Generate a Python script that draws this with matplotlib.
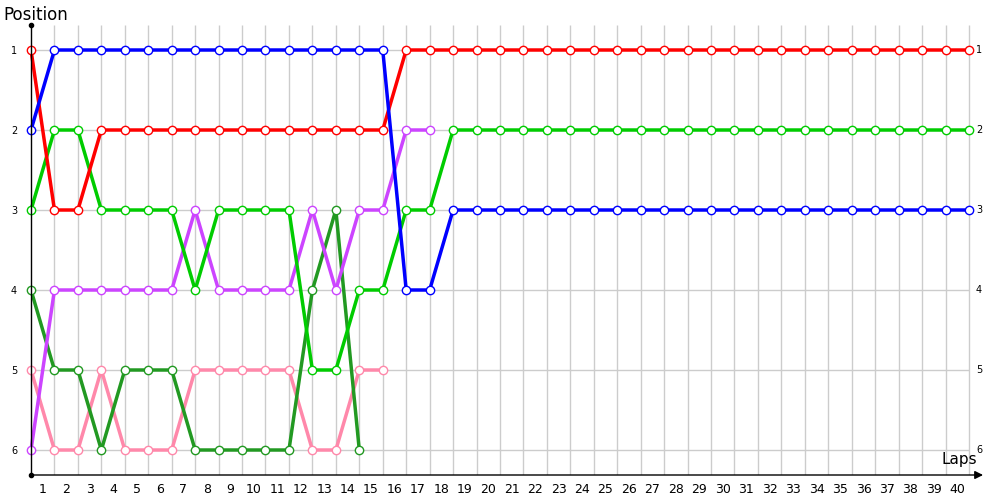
import numpy as np
import matplotlib.pyplot as plt

laps_all = list(range(0, 41))

red = [1, 3, 3, 2, 2, 2, 2, 2, 2, 2, 2, 2, 2, 2, 2, 2] + [1] * 25
blue = [2] + [1] * 15 + [4, 4] + [3] * 23
green = [3, 2, 2, 3, 3, 3, 3, 4, 3, 3, 3, 3, 5, 5, 4, 4, 3, 3] + [2] * 23
purple = [6, 4, 4, 4, 4, 4, 4, 3, 4, 4, 4, 4, 3, 4, 3, 3, 2, 2]
darkgreen = [4, 5, 5, 6, 5, 5, 5, 6, 6, 6, 6, 6, 4, 3, 6]
pink = [5, 6, 6, 5, 6, 6, 6, 5, 5, 5, 5, 5, 6, 6, 5, 5]

series = [
    (pink, '#ff88aa'),
    (darkgreen, '#229922'),
    (purple, '#cc44ff'),
    (green, '#00cc00'),
    (red, '#ff0000'),
    (blue, '#0000ff'),
]

positions = [1, 2, 3, 4, 5, 6]
xtick_labels = [str(i) for i in range(1, 41)]

fig = plt.figure(figsize=(10, 5), dpi=100)
ax = fig.add_axes([0.031, 0.05, 0.949, 0.9])
ax.set_xlim(0, 40.47)
ax.set_ylim(6.3125, 0.6875)

# grid
ax.vlines(laps_all[1:], 6.3125, 0.6875, color='#cccccc', linewidth=1, zorder=0)
ax.hlines(positions, 0, 40, color='#cccccc', linewidth=1, zorder=0)

for vals, col in series:
    x = laps_all[:len(vals)]
    ax.plot(x, vals, color=col, linewidth=2.5, marker='o', markersize=6,
            markerfacecolor='white', markeredgecolor=col, markeredgewidth=1.0,
            zorder=3, clip_on=False)

for s in ax.spines.values():
    s.set_visible(False)

# axes lines
ax.plot([0, 0], [6.3125, 0.6875], color='black', linewidth=1, clip_on=False, zorder=4)
ax.plot([0], [0.6875], 'o', color='black', markersize=3, clip_on=False, zorder=4)
ax.plot([0], [6.3125], 'o', color='black', markersize=3, clip_on=False, zorder=4)
ax.annotate('', xy=(40.6, 6.3125), xytext=(0, 6.3125),
            arrowprops=dict(arrowstyle='-|>', color='black', lw=1,
                            mutation_scale=12, shrinkA=0, shrinkB=0),
            annotation_clip=False, zorder=4)

ax.set_xticks([i - 0.5 for i in range(1, 41)])
ax.set_xticklabels(xtick_labels, fontsize=9)
ax.tick_params(axis='x', length=0, pad=6)
ax.set_yticks(positions)
ax.set_yticklabels([str(p) for p in positions], fontsize=7)
ax.tick_params(axis='y', length=0, pad=10)
for p in positions:
    ax.text(40.3, p, str(p), fontsize=7, ha='left', va='center')

fig.text(0.003, 0.97, 'Position', fontsize=12, va='center', ha='left')
ax.text(39.6, 6.12, 'Laps', fontsize=11, ha='center', va='center')

fig.savefig('out.png', dpi=100)
